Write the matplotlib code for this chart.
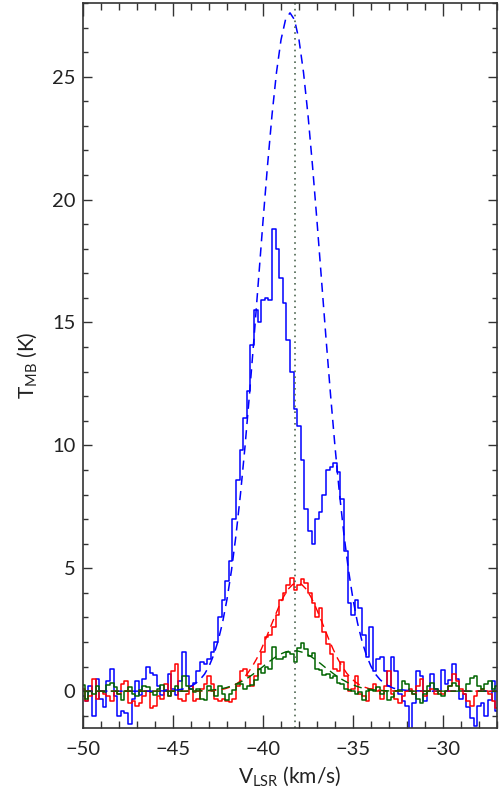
import numpy as np
import matplotlib
matplotlib.use("Agg")
import matplotlib.pyplot as plt
from matplotlib.ticker import MultipleLocator

# channel velocities: -50.0 ... -27.0 km/s, 0.2 km/s channels
v_start, v_step = -50.0, 0.2

blue = [
    -0.2, -0.4, 0.2, -1.0, 0.5, -0.3, -0.65, 0.4, 0.9, -0.2,
    -1.0, -0.8, -0.9, -1.35, -0.3, 0.4, -0.15, 0.5, 1.0, 0.75,
    0.65, 0.2, -0.15, 0.05, 0.7, 0.1, -0.15, 0.4, 1.6, 0.6,
    0.1, 0.35, 0.8, 1.2, 1.1, 1.3, 1.6, 2.0, 3.0, 3.7,
    4.5, 5.3, 7.0, 8.6, 9.8, 11.1, 12.2, 14.1, 15.5, 15.0,
    15.9, 16.0, 15.9, 18.8, 18.0, 16.8, 15.8, 14.3, 13.0, 11.5,
    10.8, 9.4, 7.4, 6.5, 6.0, 7.0, 7.3, 8.0, 9.0, 9.1,
    9.3, 8.9, 7.8, 5.7, 3.6, 3.1, 3.7, 3.4, 2.3, 1.4,
    2.6, 0.8, 1.3, 1.4, 0.8, 0.2, 1.4, 0.8, -0.1, -0.4,
    -0.6, -1.6, -0.5, 0.8, 0.6, -0.4, 0.0, 0.7, 0.1, 0.0,
    0.85, 0.3, 0.45, 1.1, 0.5, -0.3, -0.1, -0.65, -1.1, -1.4,
    -0.6, -0.5, -1.0, -0.35, 0.4, -0.8,
]

red = [
    0.1, -0.4, -0.2, 0.5, -0.3, 0.0, -0.1, -0.2, -0.4, 0.0,
    -0.1, 0.3, 0.4, -0.5, -0.4, -0.6, -0.5, -0.2, 0.0, -0.7,
    -0.6, -0.2, -0.3, 0.3, -0.2, 0.8, 1.1, -0.3, -0.4, -0.1,
    0.2, -0.4, -0.3, 0.1, 0.3, 0.6, 0.3, -0.3, -0.4, -0.3,
    -0.4, -0.45, -0.3, 0.2, 0.8, 0.9, 0.6, 0.2, 0.6, 1.1,
    1.6, 2.2, 2.3, 2.6, 3.1, 3.7, 4.0, 4.3, 4.6, 4.1,
    4.3, 4.55, 4.4, 4.0, 3.6, 3.0, 3.4, 2.4, 1.9, 1.5,
    0.9, 0.8, 1.2, 0.6, 0.0, 0.1, 0.6, -0.1, -0.2, -0.4,
    0.1, 0.3, 0.0, -0.3, 0.2, 0.8, -0.1, -0.3, -0.5, -0.2,
    0.0, 0.1, -0.1, 0.2, 0.5, -0.2, 0.0, 0.1, -0.1, 0.0,
    -0.1, 0.0, 0.2, 0.7, 0.4, 0.1, -0.1, -0.4, -0.6, -0.2,
    0.0, 0.1, 0.0, -0.1, -0.4, -0.7,
]

green = [
    0.25, -0.3, 0.0, -0.1, 0.2, 0.0, -0.05, 0.25, 0.35, 0.15,
    -0.1, -0.35, 0.0, 0.15, -0.1, -0.2, 0.05, 0.2, 0.15, -0.05,
    -0.15, 0.1, 0.25, 0.0, -0.2, 0.0, 0.2, 0.0, 0.6, 0.2,
    0.1, -0.05, 0.1, -0.3, -0.35, 0.2, 0.0, -0.2, 0.2, -0.1,
    -0.35, -0.1, 0.05, 0.3, 0.3, 0.1, 0.2, 0.25, 0.45, 0.9,
    0.75, 1.0, 0.9, 1.8, 1.3, 1.3, 1.4, 1.6, 1.5, 1.2,
    1.75, 1.95, 1.7, 1.45, 1.55, 0.9, 0.85, 0.65, 0.7, 0.55,
    0.6, 0.35, 0.3, 0.1, 0.05, 0.0, -0.1, -0.05, -0.35, 0.0,
    0.05, 0.0, 0.15, -0.1, 0.0, -0.35, -0.25, 0.0, 0.05, 0.4,
    0.3, 0.0, -0.1, -0.3, -0.5, -0.1, 0.2, 0.35, 0.1, -0.1,
    -0.2, 0.0, 0.2, 0.35, 0.2, 0.0, 0.0, 0.3, 0.55, 0.6,
    0.2, 0.1, 0.3, 0.4, 0.1, 0.2,
]

# Gaussian fit curves (values read along a 0.25 km/s grid, zero at the edges)
blue_fit_center, red_fit_center, green_fit_center = -38.5, -38.1, -38.3
blue_fit = [0.0,
    0.00, 0.00, 0.00, 0.01, 0.01, 0.02, 0.03, 0.05, 0.08, 0.12, 0.20, 0.31, 0.47,
    0.69, 1.01, 1.45, 2.03, 2.78, 3.74, 4.92, 6.35, 8.03, 9.95, 12.08, 14.36,
    16.74, 19.12, 21.38, 23.44, 25.18, 26.50, 27.32, 27.60,
    27.32, 26.50, 25.18, 23.44, 21.38, 19.12, 16.74, 14.36, 12.08, 9.95, 8.03,
    6.35, 4.92, 3.74, 2.78, 2.03, 1.45, 1.01, 0.69, 0.47, 0.31, 0.20, 0.12,
    0.08, 0.05, 0.03, 0.02, 0.01, 0.01, 0.00, 0.00, 0.00,
    0.0]
red_fit = [0.0,
    0.00, 0.00, 0.00, 0.00, 0.00, 0.00, 0.00, 0.00, 0.00, 0.00, 0.00, 0.01, 0.01,
    0.02, 0.04, 0.06, 0.10, 0.16, 0.24, 0.36, 0.52, 0.73, 1.00, 1.32, 1.70,
    2.12, 2.58, 3.03, 3.47, 3.85, 4.15, 4.34, 4.40,
    4.34, 4.15, 3.85, 3.47, 3.03, 2.58, 2.12, 1.70, 1.32, 1.00, 0.73,
    0.52, 0.36, 0.24, 0.16, 0.10, 0.06, 0.04, 0.02, 0.01, 0.01, 0.00, 0.00,
    0.00, 0.00, 0.00, 0.00, 0.00, 0.00, 0.00, 0.00, 0.00,
    0.0]
green_fit = [0.0,
    0.00, 0.00, 0.00, 0.00, 0.00, 0.00, 0.00, 0.00, 0.00, 0.01, 0.01, 0.01, 0.02,
    0.03, 0.05, 0.07, 0.10, 0.14, 0.20, 0.27, 0.35, 0.45, 0.56, 0.69, 0.83,
    0.97, 1.12, 1.26, 1.39, 1.50, 1.58, 1.63, 1.65,
    1.63, 1.58, 1.50, 1.39, 1.26, 1.12, 0.97, 0.83, 0.69, 0.56, 0.45,
    0.35, 0.27, 0.20, 0.14, 0.10, 0.07, 0.05, 0.03, 0.02, 0.01, 0.01, 0.01,
    0.00, 0.00, 0.00, 0.00, 0.00, 0.00, 0.00, 0.00, 0.00,
    0.0]

v_ref = -38.2
xlim = (-50, -27)
ylim = (-1.5, 28)

plt.rcParams['font.family'] = ['Lato', 'DejaVu Sans']
plt.rcParams['mathtext.default'] = 'regular'

fig = plt.figure(figsize=(5.0, 7.92), dpi=100)
ax = fig.add_axes([0.166, 0.0808, 0.828, 0.9154])

def chan_v(arr):
    return v_start + v_step * np.arange(len(arr))

def fit_v(arr, center):
    inner = center + 0.25 * np.arange(-32, 33)
    return np.concatenate(([xlim[0]], inner, [xlim[1]]))

lw = 1.1
ax.step(chan_v(blue), blue, where='mid', color='#0000ff', lw=lw)
ax.step(chan_v(red), red, where='mid', color='#ff0000', lw=lw)
ax.step(chan_v(green), green, where='mid', color='#006400', lw=lw)

ax.plot(fit_v(blue_fit, blue_fit_center), blue_fit, color='#0000ff', lw=1.1,
        dashes=(6, 4))
ax.plot(fit_v(red_fit, red_fit_center), red_fit, color='#ff0000', lw=1.0,
        dashes=(6, 4))
ax.plot(fit_v(green_fit, green_fit_center), green_fit, color='#006400', lw=1.0,
        dashes=(6, 4))

ax.axvline(v_ref, color='#4d6650', lw=1.2, linestyle=(0, (1, 2.5)))

txt = '#222222'
ax.set_xlim(*xlim)
ax.set_ylim(*ylim)
ax.xaxis.set_major_locator(MultipleLocator(5))
ax.xaxis.set_minor_locator(MultipleLocator(1))
ax.yaxis.set_major_locator(MultipleLocator(5))
ax.yaxis.set_minor_locator(MultipleLocator(1))
ax.tick_params(axis='x', which='major', direction='in', length=9.5, width=1,
               top=True, bottom=True, labelsize=14.5, pad=9, color='#333333',
               labelcolor=txt)
ax.tick_params(axis='x', which='minor', direction='in', length=5, width=1,
               top=True, bottom=True, color='#333333')
ax.tick_params(axis='y', which='major', direction='in', length=6.5, width=1,
               left=True, right=True, labelsize=14.5, pad=5.5, color='#333333',
               labelcolor=txt)
ax.tick_params(axis='y', which='minor', direction='in', length=3.6, width=1,
               left=True, right=True, color='#333333')
for sp in ax.spines.values():
    sp.set_linewidth(1.2)
    sp.set_color('#333333')

ax.set_xlabel(r'V$_{LSR}$ (km/s)', fontsize=15, color=txt)
ax.set_ylabel(r'T$_{MB}$ (K)', fontsize=15, color=txt)
ax.xaxis.set_label_coords(0.5, -0.05)
ax.yaxis.set_label_coords(-0.135, 0.5)
ax.yaxis.label.set_va('center')

fig.savefig('out.png', dpi=100)
